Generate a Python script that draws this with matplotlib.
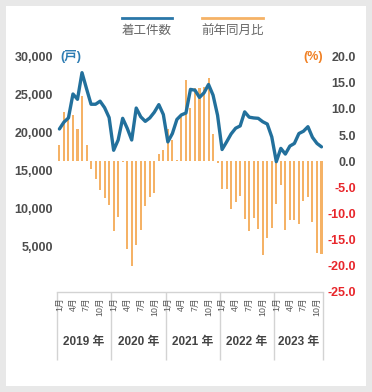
import matplotlib
matplotlib.use('Agg')
import matplotlib.pyplot as plt
from matplotlib.lines import Line2D
from matplotlib.patches import Rectangle

plt.rcParams['font.family'] = ['Liberation Sans', 'Noto Sans CJK JP']

# 2019/1 - 2023/11, monthly
years = ['2019', '2020', '2021', '2022', '2023']
month_nums = list(range(1, 13)) * 4 + list(range(1, 12))
month_ticks = [1, 4, 7, 10]

# 着工件数 (戸)
starts = [20500, 21400, 21950, 25100, 24400, 27900, 25800, 23750, 23750, 24150,
          23300, 22000, 17700, 19050, 21900, 20600, 19050, 23250, 22100, 21500,
          21950, 22700, 23700, 22400, 18800, 19900, 21750, 22350, 22600, 25700,
          25600, 24650, 25250, 26350, 24950, 22300, 17800, 18800, 19850, 20600,
          20900, 22750, 22050, 21950, 21900, 21450, 21150, 19450, 16200, 17950,
          17200, 18250, 18600, 19900, 20200, 20800, 19400, 18600, 18150]

# 前年同月比 (%)
yoy = [3.2, 9.5, 8.1, 8.9, 6.2, 12.4, 3.2, -1.5, -3.4, -5.4,
       -7.0, -8.4, -13.3, -10.7, -0.2, -16.8, -20.0, -16.1, -13.2, -8.5,
       -6.8, -6.0, 1.3, 2.1, 6.2, 4.1, 0.2, 8.5, 15.6, 10.1,
       14.1, 14.0, 14.3, 15.9, 5.2, -0.4, -5.3, -5.3, -9.2, -7.7,
       -6.6, -11.0, -13.4, -10.8, -12.9, -18.0, -14.6, -12.7, -8.1, -4.6,
       -13.2, -11.3, -11.3, -11.9, -7.6, -6.9, -11.7, -17.5, -17.8]

left_ticks = [5000, 10000, 15000, 20000, 25000, 30000]
right_ticks = [-25, -20, -15, -10, -5, 0, 5, 10, 15, 20]

blue = '#22709c'
orange = '#f5b266'
gray = '#4d4d4d'

W, H = 372, 392
fig = plt.figure(figsize=(W / 100, H / 100), dpi=100, facecolor='#e8e8e8')
# white card behind everything
fig.patches.append(Rectangle((6 / W, 6 / H), 360 / W, 380 / H, transform=fig.transFigure,
                             facecolor='white', edgecolor='none', zorder=-5))

L, R = 56.7, 323.3
ax = fig.add_axes([L / W, (H - 292) / H, (R - L) / W, (292 - 56.7) / H])
ax2 = ax.twinx()

x = list(range(len(starts)))
ax2.bar(x, yoy, width=0.45, color=orange, linewidth=0)
ax.plot(x, starts, color=blue, lw=2.4, solid_capstyle='round')

ax.set_zorder(ax2.get_zorder() + 1)
ax.patch.set_visible(False)
ax2.patch.set_visible(False)

xlim = (-0.6, 58.4)
ax.set_xlim(*xlim)
ax.set_xticks([])
ax.set_ylim(-930, 30000)
ax.set_yticks(left_ticks)
ax.set_yticklabels(['{:,}'.format(v) for v in left_ticks])
ax.tick_params(axis='y', length=0, pad=2.7, labelsize=9, labelcolor=gray)
for lab in ax.get_yticklabels():
    lab.set_fontweight('bold')

ax2.set_ylim(-25, 20)
ax2.set_yticks(right_ticks)
ax2.set_yticklabels(['{:.1f}'.format(v) for v in right_ticks])
ax2.tick_params(axis='y', length=0, pad=23.5, labelsize=9)
for v, lab in zip(right_ticks, ax2.get_yticklabels()):
    lab.set_ha('right')
    lab.set_fontweight('bold')
    lab.set_color('#e8262b' if v < 0 else gray)

for a in (ax, ax2):
    for s in a.spines.values():
        s.set_visible(False)

# unit labels
ytop = 1 - 56.7 / H
fig.text(60 / W, ytop, '(戸)', color='#2e7db3', fontsize=9, fontweight='bold', va='center', ha='left')
fig.text(323 / W, ytop, '(%)', color='#f08024', fontsize=9, fontweight='bold', va='center', ha='right')

# legend
ly = 1 - 18 / H
fig.add_artist(Line2D([122 / W, 172 / W], [ly, ly], color='#2a77a8', lw=2))
fig.add_artist(Line2D([202 / W, 263 / W], [ly, ly], color=orange, lw=2))
fig.text(147 / W, 1 - 31 / H, '着工件数', ha='center', va='center', fontsize=9, color='#666666')
fig.text(232.5 / W, 1 - 31 / H, '前年同月比', ha='center', va='center', fontsize=9, color='#666666')

# category axis box
axb = fig.add_axes([L / W, (H - 360) / H, (R - L) / W, 68 / H])
axb.set_xlim(*xlim)
axb.set_ylim(0, 1)
axb.axis('off')
bounds = [xlim[0], 11.5, 23.5, 35.5, 47.5, xlim[1]]
axb.plot([xlim[0], xlim[1]], [1, 1], color='#d3d3d3', lw=1, clip_on=False)
axb.vlines(bounds, 0, 1, color='#d3d3d3', lw=1, clip_on=False)
for i, m in enumerate(month_nums):
    if m in month_ticks:
        axb.text(i, 0.92, '{}月'.format(m), rotation=90, ha='center', va='top',
                 fontsize=6.3, color='#555555')
for k, yr in enumerate(years):
    c = (bounds[k] + bounds[k + 1]) / 2
    axb.text(c, 0.265, '{} 年'.format(yr), ha='center', va='center', fontsize=8.5,
             fontweight='bold', color='#444444')

fig.savefig('out.png', dpi=100, facecolor=fig.get_facecolor())
